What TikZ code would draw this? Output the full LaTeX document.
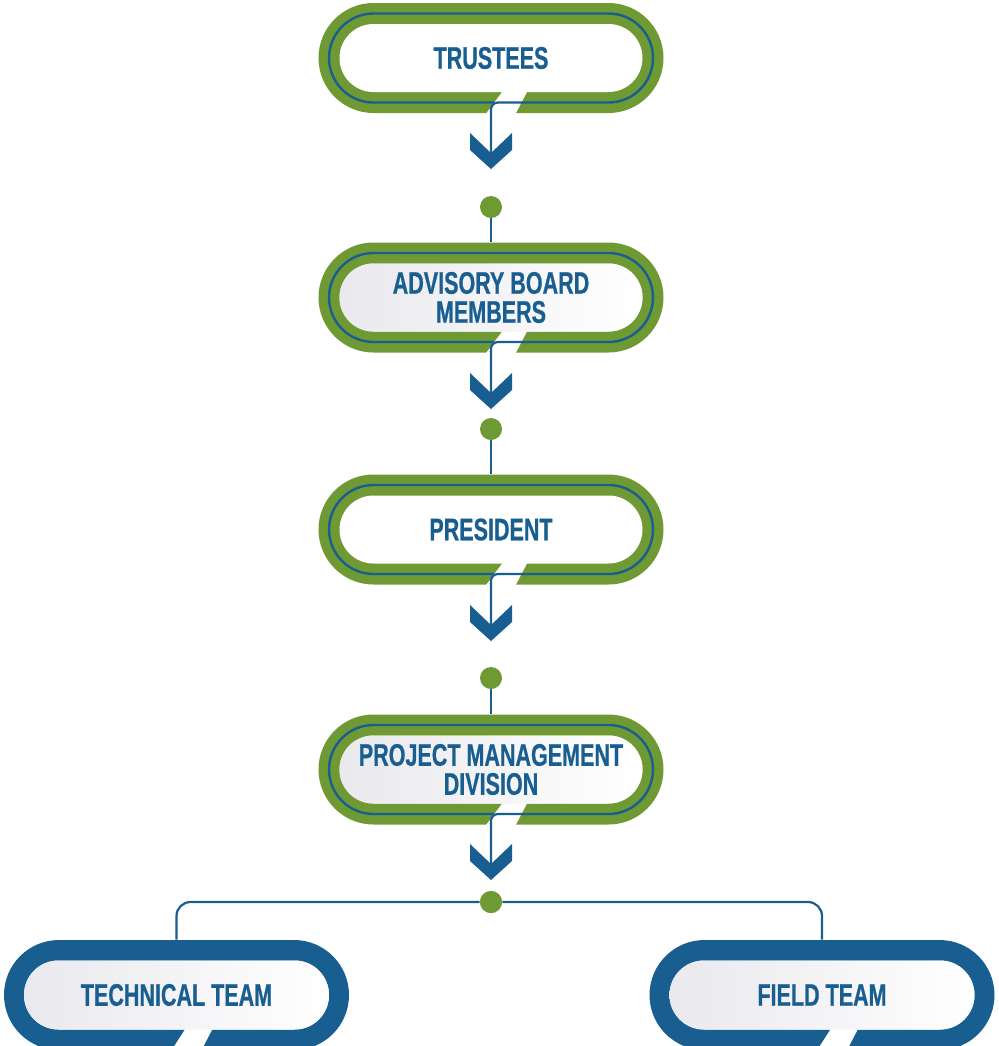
\documentclass[tikz,border=0pt]{standalone}
\usepackage{fontspec}
\setmainfont{Liberation Sans}[FakeStretch=0.69,BoldFeatures={FakeBold=0.6}]
\usetikzlibrary{shapes.misc,calc}
\definecolor{org_green}{RGB}{111,153,50}
\definecolor{org_blue}{RGB}{24,94,145}
\definecolor{org_grey}{RGB}{233,233,238}
\tikzstyle{rim}=[rounded rectangle,fill=org_green,inner sep=0pt,
  minimum width=172.5pt,minimum height=55pt]
\tikzstyle{bluerim}=[rim,fill=org_blue]
\tikzstyle{ring}=[rounded rectangle,draw=org_blue,line width=1.2pt,inner sep=0pt,
  minimum width=162pt,minimum height=44.5pt]
\tikzstyle{pill}=[rounded rectangle,fill=white,inner sep=0pt,
  minimum width=151.5pt,minimum height=34pt,text=org_blue,align=center,
  font=\bfseries\fontsize{15.6}{14.5}\selectfont]
\tikzstyle{shadedpill}=[pill,left color=org_grey,right color=white]
\tikzstyle{gdot}=[circle,fill=org_green,inner sep=0pt,minimum size=11pt]
\tikzstyle{link}=[draw=org_blue,line width=1.1pt]

\begin{document}
\begin{tikzpicture}[x=0.5pt,y=0.5pt]
    \clip (0,0) rectangle (998,-1046);
    % boxes
    \node [style=rim] (trustees) at (491, -58) {};
    \node [style=ring] (trustees-ring) at (trustees) {};
    \node [style=rim] (advisory) at (491, -297.5) {};
    \node [style=ring] (advisory-ring) at (advisory) {};
    \node [style=rim] (president) at (491, -529.5) {};
    \node [style=ring] (president-ring) at (president) {};
    \node [style=rim] (projdiv) at (491, -769.5) {};
    \node [style=ring] (projdiv-ring) at (projdiv) {};
    \node [style=bluerim] (techteam) at (176.5, -995) {};
    \node [style=bluerim] (fieldteam) at (822, -995) {};
    % gaps in the rims
    \fill [white] ($(trustees)+(12.6,-32)$) -- ($(trustees)+(37,-32)$) -- ($(trustees)+(24,-57)$) -- ($(trustees)+(-6,-57)$) -- cycle;
    \fill [white] ($(advisory)+(12.6,-32)$) -- ($(advisory)+(37,-32)$) -- ($(advisory)+(24,-57)$) -- ($(advisory)+(-6,-57)$) -- cycle;
    \fill [white] ($(president)+(12.6,-32)$) -- ($(president)+(37,-32)$) -- ($(president)+(24,-57)$) -- ($(president)+(-6,-57)$) -- cycle;
    \fill [white] ($(projdiv)+(12.6,-32)$) -- ($(projdiv)+(37,-32)$) -- ($(projdiv)+(24,-57)$) -- ($(projdiv)+(-6,-57)$) -- cycle;
    \fill [white] ($(techteam)+(10,-32)$) -- ($(techteam)+(37,-32)$) -- ($(techteam)+(24,-57)$) -- ($(techteam)+(-6,-57)$) -- cycle;
    \fill [white] ($(fieldteam)+(10,-32)$) -- ($(fieldteam)+(37,-32)$) -- ($(fieldteam)+(24,-57)$) -- ($(fieldteam)+(-6,-57)$) -- cycle;
    % texts
    \node [style=pill] (trustees-txt) at (trustees) {TRUSTEES};
    \node [style=shadedpill] (advisory-txt) at (advisory) {ADVISORY BOARD\\MEMBERS};
    \node [style=pill] (president-txt) at (president) {PRESIDENT};
    \node [style=shadedpill] (projdiv-txt) at (projdiv) {PROJECT MANAGEMENT\\DIVISION};
    \node [style=shadedpill,minimum width=152.5pt,minimum height=34.5pt] (techteam-txt) at (techteam) {TECHNICAL TEAM};
    \node [style=shadedpill,minimum width=152.5pt,minimum height=34.5pt] (fieldteam-txt) at (fieldteam) {FIELD TEAM};
    % arrows out of the boxes
    \coordinate (arrow1) at (491, -153);
    \coordinate (arrow2) at (491, -393);
    \coordinate (arrow3) at (491, -625);
    \coordinate (arrow4) at (491, -864);
    \draw [style=link,rounded corners=3.5pt] ($(trustees)+(32,-44.5)$) -- ($(trustees)+(0,-44.5)$) -- (arrow1);
    \draw [style=link,rounded corners=3.5pt] ($(advisory)+(32,-44.5)$) -- ($(advisory)+(0,-44.5)$) -- (arrow2);
    \draw [style=link,rounded corners=3.5pt] ($(president)+(32,-44.5)$) -- ($(president)+(0,-44.5)$) -- (arrow3);
    \draw [style=link,rounded corners=3.5pt] ($(projdiv)+(32,-44.5)$) -- ($(projdiv)+(0,-44.5)$) -- (arrow4);
    \fill [org_blue] (470,-133) -- (arrow1) -- (512,-133) -- (512,-150) -- (491,-169) -- (470,-150) -- cycle;
    \fill [org_blue] (470,-373) -- (arrow2) -- (512,-373) -- (512,-390) -- (491,-409) -- (470,-390) -- cycle;
    \fill [org_blue] (470,-605) -- (arrow3) -- (512,-605) -- (512,-622) -- (491,-641) -- (470,-622) -- cycle;
    \fill [org_blue] (470,-844) -- (arrow4) -- (512,-844) -- (512,-861) -- (491,-880) -- (470,-861) -- cycle;
    % dots
    \node [style=gdot] (dot1) at (491, -207) {};
    \node [style=gdot] (dot2) at (491, -429) {};
    \node [style=gdot] (dot3) at (491, -678) {};
    \node [style=gdot] (dot4) at (491, -902) {};
    \draw [style=link] (dot1) -- (advisory);
    \draw [style=link] (dot2) -- (president);
    \draw [style=link] (dot3) -- (projdiv);
    \draw [style=link,rounded corners=7pt] (techteam) |- (dot4);
    \draw [style=link,rounded corners=7pt] (dot4) -| (fieldteam);
    \node [style=gdot] at (dot4) {};
  \end{tikzpicture}
\end{document}
